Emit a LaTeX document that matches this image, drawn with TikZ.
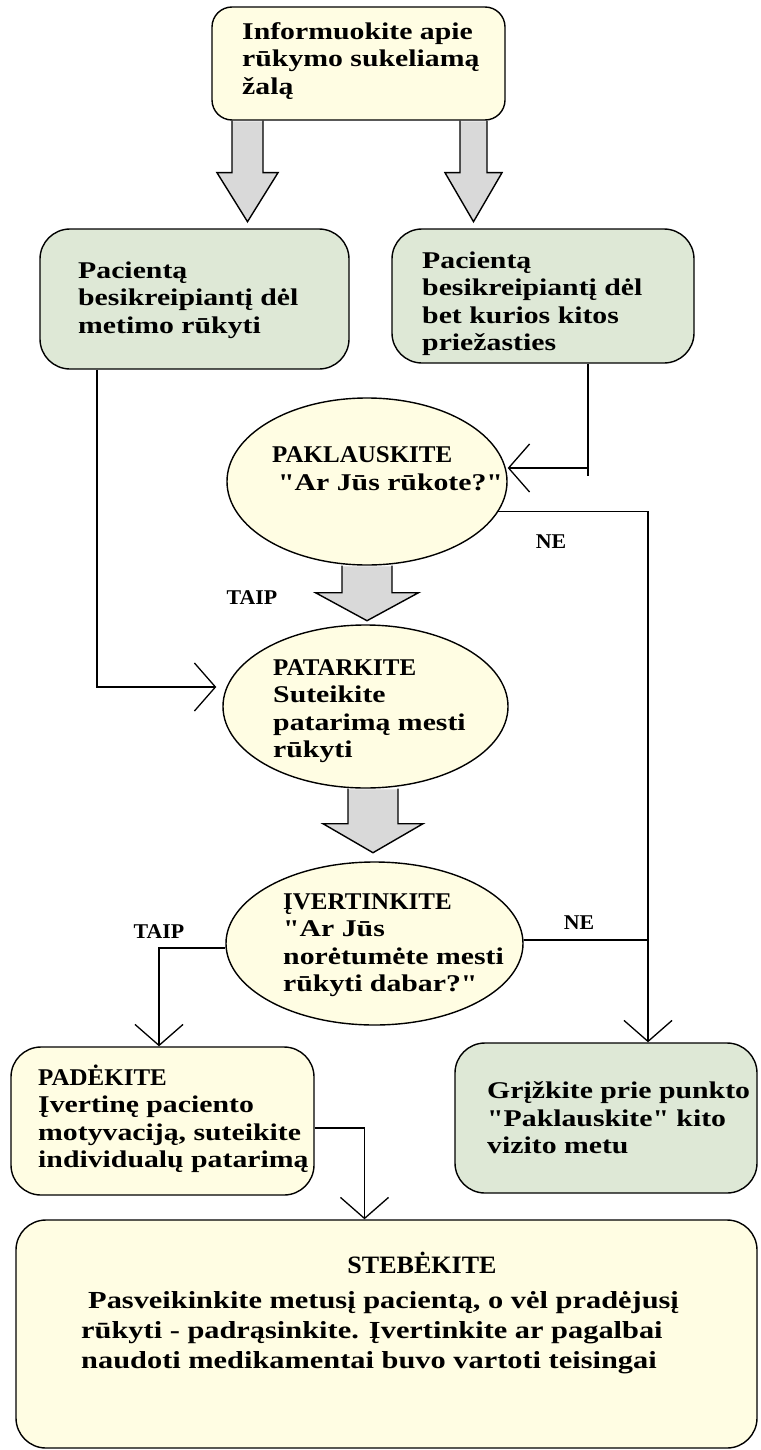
\documentclass[tikz,border=0pt]{standalone}
\usepackage{graphicx}
\usepackage{fontspec}
\newfontfamily\bodyf{Liberation Serif}[UprightFont=* Bold, BoldFont=* Bold, FakeStretch=1.24]
\newcommand\capw[1]{\scalebox{0.84}[1]{#1}}
\usetikzlibrary{arrows.meta,shapes.geometric,calc}
\definecolor{cream}{HTML}{FFFDE3}
\definecolor{sage}{HTML}{DEE8D6}
\definecolor{arrowgray}{HTML}{D9D9D9}
\tikzset{
  cbox/.style={rectangle, draw=black, line width=1.4pt, fill=cream, rounded corners=20pt, inner sep=0pt},
  gbox/.style={rectangle, draw=black, line width=1.4pt, fill=sage, rounded corners=30pt, inner sep=0pt},
  oval/.style={ellipse, draw=black, line width=1.4pt, fill=cream, inner sep=0pt},
  txt/.style={anchor=west, inner sep=0pt, align=left, font=\bodyf\fontsize{24}{27.5}\selectfont},
  lbl/.style={inner sep=0pt, font=\bodyf\fontsize{21}{24}\selectfont},
  plain/.style={line width=1.3pt},
  conn/.style={line width=1.3pt, -{Straight Barb[length=21pt,width=48pt,line width=1.3pt]}},
  pics/barrow/.style n args={4}{code={
    \fill[arrowgray] (-#1,0.7) -- (-#1,#3) -- (-#2,#3) -- (0,#4) -- (#2,#3) -- (#1,#3) -- (#1,0.7) -- cycle;
    \draw[line width=1.4pt, line join=miter] (-#1,0) -- (-#1,#3) -- (-#2,#3) -- (0,#4) -- (#2,#3) -- (#1,#3) -- (#1,0);
  }}
}
\begin{document}
\begin{tikzpicture}[x=1pt,y=-1pt]
\useasboundingbox (0,0) rectangle (760,1450);

% boxes and ovals
\node[cbox, minimum width=293pt, minimum height=113pt] (top) at (358.5,63.5) {};
\node[txt] (toptxt) at (242,61) {Informuokite apie\\rūkymo sukeliamą\\žalą};

\node[gbox, minimum width=309pt, minimum height=140pt] (lg) at (194.5,299) {};
\node[txt] (lgtxt) at (78,300) {Pacientą\\besikreipiantį dėl\\metimo rūkyti};

\node[gbox, minimum width=302pt, minimum height=134pt] (rg) at (543,296) {};
\node[txt] (rgtxt) at (422,303.5) {Pacientą\\besikreipiantį dėl\\bet kurios kitos\\priežasties};

\node[oval, minimum width=280pt, minimum height=167pt] (pak) at (367,481.5) {};
\node[txt] (paktxt) at (272,468.5) {\capw{PAKLAUSKITE}\\\hspace*{6pt}"Ar Jūs rūkote?"};

\node[oval, minimum width=285pt, minimum height=163pt] (pat) at (365.5,706.5) {};
\node[txt] (pattxt) at (273,711) {\capw{PATARKITE}\\Suteikite\\patarimą mesti\\rūkyti};

\node[oval, minimum width=297pt, minimum height=163pt] (iv) at (374.5,943.5) {};
\node[txt] (ivtxt) at (283,945) {\capw{ĮVERTINKITE}\\"Ar Jūs\\norėtumėte mesti\\rūkyti dabar?"};

\node[cbox, rounded corners=30pt, minimum width=303pt, minimum height=148pt] (pd) at (162.5,1121) {};
\node[txt] (pdtxt) at (38,1119) {\capw{PADĖKITE}\\Įvertinę paciento\\motyvaciją, suteikite\\individualų patarimą};

\node[gbox, minimum width=302pt, minimum height=150pt] (gr) at (606,1118) {};
\node[txt] (grtxt) at (487,1118) {Grįžkite prie punkto\\"Paklauskite" kito\\vizito metu};

\node[cbox, rounded corners=30pt, minimum width=741pt, minimum height=228pt] (st) at (386.5,1334) {};
\node[lbl, font=\bodyf\fontsize{25}{28}\selectfont] (sttitle) at (422,1263) {\capw{STEBĖKITE}};
\node[txt, font=\bodyf\fontsize{24.5}{30}\selectfont] (sttxt) at (81,1333) {\hspace*{7pt}Pasveikinkite metusį pacientą, o vėl pradėjusį\\rūkyti - padrąsinkite. Įvertinkite ar pagalbai\\naudoti medikamentai buvo vartoti teisingai};

% labels
\node[lbl] (taip1) at (252,598) {\capw{TAIP}};
\node[lbl] (ne1) at (551,542) {\capw{NE}};
\node[lbl] (taip2) at (159,932) {\capw{TAIP}};
\node[lbl] (ne2) at (579,923) {\capw{NE}};

% block arrows
\pic at ([xshift=-111pt]top.south) {barrow={15.5}{30.5}{52}{101}};
\pic at ([xshift=115pt]top.south) {barrow={13.5}{28.5}{52}{101}};
\pic at (pak.south) {barrow={25}{51.5}{27}{55}};
\pic at ([xshift=7.5pt]pat.south) {barrow={25}{50}{35}{64}};

% connectors
\draw[conn] ([xshift=-97.5pt]lg.south) |- ([xshift=-6pt,yshift=19.5pt]pat.west);
\draw[conn] ([xshift=45pt]rg.south) |- ([yshift=13.5pt]pak.east);
\draw[plain] ([xshift=45pt,yshift=-105pt]rg.south) -- ++(0,7);
\coordinate (gin) at ([xshift=42pt]gr.north);
\draw[conn] (pak.-13) -| (gin);
\coordinate (ivr) at ([yshift=3.5pt]iv.east);
\draw[plain] (ivr) -- (ivr -| gin);
\coordinate (ivl) at ([yshift=-4.5pt]iv.west);
\draw[conn] (ivl) -| ([xshift=-3.5pt]pd.north);
\draw[conn] ([yshift=-7pt]pd.east) -| ([xshift=-22pt]st.north);
\end{tikzpicture}
\end{document}
